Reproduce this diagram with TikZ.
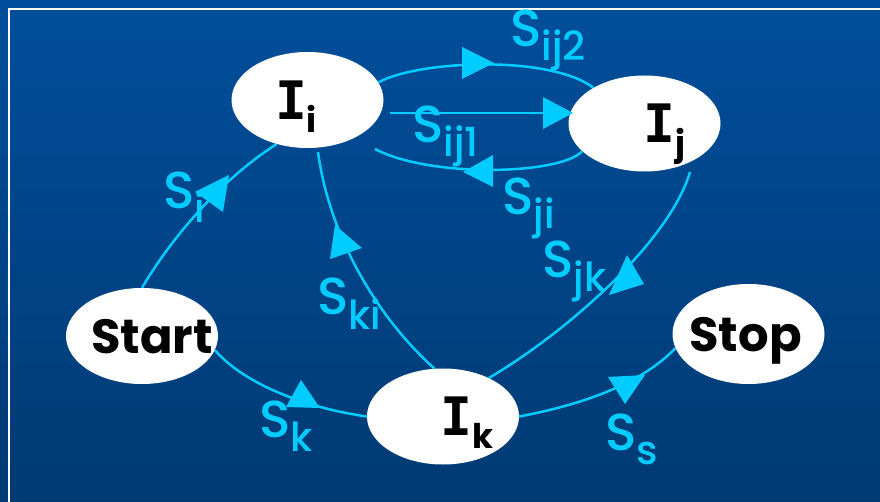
\documentclass[tikz,border=0pt]{standalone}
\usepackage{fontspec}
\setmainfont{Poppins}
\newfontfamily\labfont{Poppins Medium}
\newfontfamily\monoI{DejaVu Sans Mono}
\usetikzlibrary{shapes.geometric,calc}
\definecolor{skyc}{RGB}{0,204,255}
\definecolor{bgtop}{RGB}{0,78,155}
\definecolor{bgbot}{RGB}{0,58,115}
\pgfdeclarelayer{back}\pgfdeclarelayer{edges}
\pgfsetlayers{back,edges,main}
\newcommand\slab[1]{S\smash{\raisebox{-14pt}{\fontsize{40}{40}\selectfont #1}}}
\newcommand\inode[1]{{\monoI\fontsize{53}{53}\selectfont I}\smash{\raisebox{-13pt}{\fontsize{34}{34}\selectfont #1}}}
\newcommand\ctext[2]{\makebox[0pt]{\hspace*{#1}#2}}
\begin{document}
\begin{tikzpicture}[x=1pt,y=-1pt,
  state/.style={ellipse,fill=white,minimum width=152pt,minimum height=96pt,inner sep=0pt,text depth=0pt,font=\fontsize{48}{48}\selectfont\bfseries,text=black},
  trans/.style={draw=skyc,line width=2.5pt},
  tri/.style={fill=skyc},
  lab/.style={text=skyc,inner sep=0pt,anchor=base west,font=\labfont\fontsize{52}{52}\selectfont}]
\useasboundingbox (0,0) rectangle (880,502);
\begin{pgfonlayer}{back}
\shade[top color=bgtop,bottom color=bgbot] (0,0) rectangle (880,502);
\draw[white,line width=2pt] (9,502) -- (9,9) -- (880,9);
\end{pgfonlayer}
\node[state] (Ii) at (307.5,100) {\ctext{-23pt}{\inode{i}}};
\node[state] (Ij) at (644.5,123.5) {\ctext{40pt}{\inode{j}}};
\node[state] (St) at (142,336) {\ctext{20pt}{Start}};
\node[state] (Ik) at (443,416.5) {\ctext{48pt}{\inode{k}}};
\node[state,minimum height=100pt] (Sp) at (748.5,334) {\ctext{-6pt}{Stop}};
\begin{pgfonlayer}{edges}
\node[lab] (L1) at (510,47) {\slab{ij2}};
\node[lab] (L2) at (412,143) {\slab{ij1}};
\node[lab] (L3) at (502,215) {\slab{ji}};
\node[lab] (L4) at (542,278) {\slab{jk}};
\node[lab] (L5) at (317,315) {\slab{ki}};
\node[lab] (L6) at (163,209) {\slab{i}};
\node[lab] (L7) at (259,437) {\slab{k}};
\node[lab] (L8) at (605,450) {\slab{s}};
\draw[trans] (Ii.14) .. controls (420,60) and (550,55) .. (Ij.145);
\draw[trans] ($(Ii.east)+(6.5,13)$) -- ($(Ij.west)+(0,-10.5)$);
\draw[trans] (Ij.204) .. controls (560,175) and (430,178) .. ($(Ii)+(67.5,49)$);
\draw[trans] ($(Ij)+(45.5,48.5)$) .. controls (670,240) and (570,330) .. (Ik.40);
\draw[trans] (Ik.100) .. controls (380,320) and (330,240) .. ($(Ii)+(10.5,52)$);
\draw[trans] (St.north) .. controls (170,240) and (220,180) .. (Ii.-125);
\draw[trans] (St.-11) .. controls (250,390) and (320,410) .. (Ik.west);
\draw[trans] (Ik.east) .. controls (580,405) and (640,385) .. (Sp.191);
\end{pgfonlayer}
\fill[tri] (462,47) -- (462,79) -- (494,63) -- cycle;
\fill[tri] (543,97) -- (543,129) -- (573,113) -- cycle;
\fill[tri] (463,172) -- (493,155) -- (493,187) -- cycle;
\fill[tri] (627,255) -- (644,284) -- (609,295) -- cycle;
\fill[tri] (335,225) -- (330,259) -- (362,248) -- cycle;
\fill[tri] (195,192) -- (229,175) -- (223,212) -- cycle;
\fill[tri] (301,380) -- (286,407) -- (320,408) -- cycle;
\fill[tri] (608,377) -- (645,375) -- (625,404) -- cycle;
\end{tikzpicture}
\end{document}
